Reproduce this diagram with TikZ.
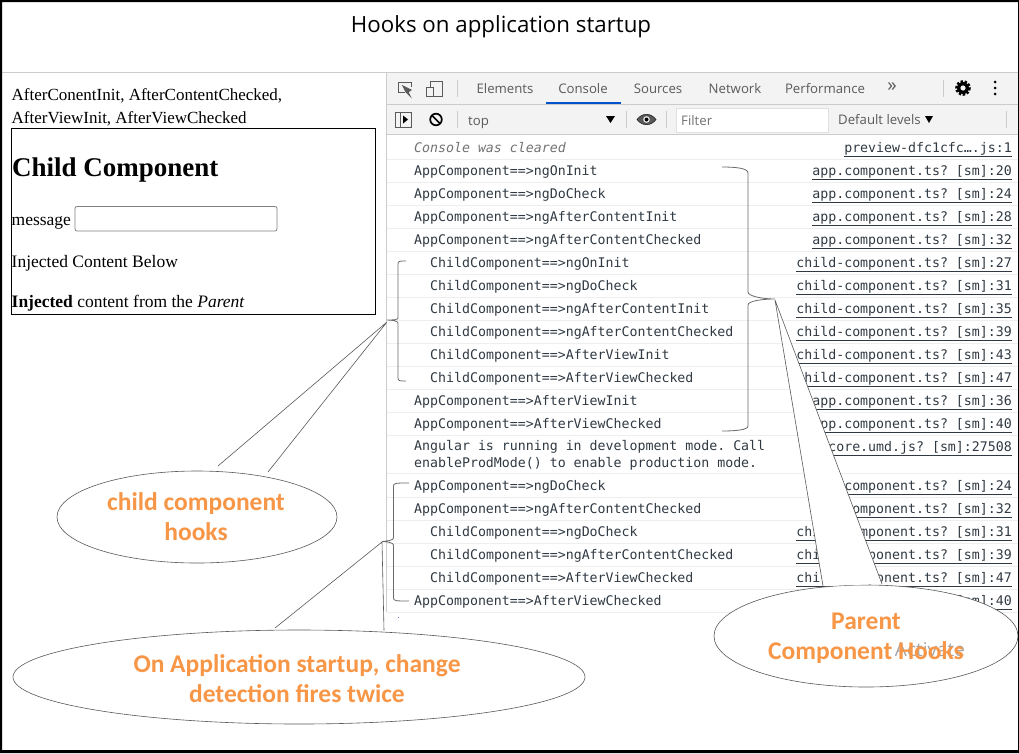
\documentclass[tikz,border=0pt]{standalone}
\usepackage{fontspec}
\setmainfont{Liberation Serif}
\setmonofont{DejaVu Sans Mono}
\setsansfont{Open Sans}
\newfontfamily\calloutfont{Carlito}
\definecolor{consoletext}{HTML}{303942}
\definecolor{rowline}{HTML}{EEEEEE}
\definecolor{barfill}{HTML}{F3F3F3}
\definecolor{barline}{HTML}{CCCCCC}
\definecolor{tabtext}{HTML}{5A5A5A}
\definecolor{hookorange}{HTML}{F79646}
\definecolor{bracegray}{HTML}{6A6A6A}
\tikzset{
  logtext/.style={anchor=base west, inner sep=0pt, font=\ttfamily\fontsize{13.25}{15}\selectfont, text=consoletext},
  loglink/.style={anchor=base east, inner sep=0pt, font=\ttfamily\fontsize{13.25}{15}\selectfont, text=consoletext},
  pagetext/.style={anchor=base west, inner sep=0pt, font=\fontsize{17.5}{20}\selectfont},
  tabtext/.style={inner sep=0pt, font=\sffamily\fontsize{13.2}{15}\selectfont, text=tabtext},
  hooklabel/.style={inner sep=0pt, align=center, text=hookorange, font=\calloutfont\bfseries\fontsize{25.5}{30}\selectfont},
  bubble/.style={draw=black!65, line width=0.6pt},
  hookbrace/.style={draw=bracegray, line width=0.8pt},
  iconline/.style={draw=tabtext, line width=1pt}
}
\begin{document}
\begin{tikzpicture}[x=1pt,y=-1pt]
  \useasboundingbox (0,0) rectangle (1019,753);
  \fill[white] (0,0) rectangle (1019,753);

  % Title band
  \node[inner sep=0pt, font=\sffamily\fontsize{22.3}{26}\selectfont] (titleText) at (501,27) {Hooks on application startup};
  \draw[barline, line width=0.6pt] (2,72) -- (1018,72);

  % Page on the left
  \node[pagetext, font=\fontsize{17}{20}\selectfont] (pageLineA) at (11.5,100) {AfterConentInit, AfterContentChecked,};
  \node[pagetext, font=\fontsize{17}{20}\selectfont] (pageLineB) at (11.5,123) {AfterViewInit, AfterViewChecked};
  \draw[black, line width=1pt] (11,128.5) rectangle (375,314);
  \node[pagetext, font=\bfseries\fontsize{27}{30}\selectfont] (childHead) at (12,176) {Child Component};
  \node[pagetext] (messageText) at (11.5,225) {message};
  \draw[black!50, line width=0.8pt, rounded corners=2pt, fill=white] (75,206.5) rectangle (277,231);
  \node[pagetext] (injectedHead) at (11.5,267) {Injected Content Below};
  \node[pagetext] (injectedLine) at (11.5,307) {\textbf{Injected} content from the \textit{Parent}};

  % Devtools bars
  \fill[barfill] (386,73) rectangle (1018,134);
  \draw[barline, line width=0.6pt] (386,73) -- (386,612);
  \draw[barline, line width=0.6pt] (386,104) -- (1018,104);
  \draw[barline, line width=0.6pt] (386,134) -- (1018,134);
  \draw[barline, line width=0.6pt] (457,80) -- (457,97);
  \draw[barline, line width=0.6pt] (943,80) -- (943,97);
  \foreach \xpos/\tabname in {505/Elements,583/Console,658/Sources,735/Network,825/Performance} {
    \node[tabtext] (tab\tabname) at (\xpos,88.5) {\tabname};
  }
  \fill[blue!60!cyan!80!black] (546,102) rectangle (621,104);
  \node[tabtext, font=\sffamily\fontsize{19}{20}\selectfont] (tabMore) at (892,87) {»};

  % Icons of the tab bar
  \draw[iconline] (405,92) -- (398.5,92) -- (398.5,82) -- (411,82) -- (411,87);
  \draw[iconline, fill=tabtext] (403,86) -- (411,90) -- (408,92) -- (410,96) -- (406,92) -- cycle;
  \draw[iconline] (430,81) rectangle (442,96);
  \draw[iconline, fill=barfill] (426,87) rectangle (433,96);
  \draw[tabtext, line width=2.6pt, dash pattern=on 2.4pt off 1.6pt] (963,88) circle (6.5);
  \fill[tabtext] (963,88) circle (6);
  \fill[barfill] (963,88) circle (2.6);
  \foreach \ypos in {82,88,94} {
    \fill[tabtext] (995,\ypos) circle (1.5);
  }

  % Icons and fields of the filter bar
  \draw[iconline] (395,112) rectangle (411,127);
  \draw[iconline] (400,112) -- (400,127);
  \fill[tabtext] (403,115.5) -- (408,119.5) -- (403,123.5) -- cycle;
  \draw[tabtext, line width=1.7pt] (436,119.5) circle (5.8);
  \draw[tabtext, line width=1.7pt] (432,115.5) -- (440,123.5);
  \draw[barline, line width=0.6pt] (457,111) -- (457,128);
  \node[tabtext, anchor=base west] (topText) at (468,125) {top};
  \fill[tabtext] (606,116) -- (615,116) -- (610.5,123) -- cycle;
  \draw[barline, line width=0.6pt] (626,111) -- (626,128);
  \draw[tabtext, fill=tabtext] (637,119.5) .. controls (642,112.5) and (651,112.5) .. (656,119.5) .. controls (651,126.5) and (642,126.5) .. (637,119.5) -- cycle;
  \fill[barfill] (646.5,119.5) circle (3.3);
  \fill[tabtext] (646.5,119.5) circle (2);
  \draw[barline, line width=0.6pt] (666,111) -- (666,128);
  \draw[barline!60, line width=0.6pt, fill=white] (676,108) rectangle (828,132);
  \node[tabtext, anchor=base west, text=black!55] (filterText) at (681,125) {Filter};
  \node[tabtext, anchor=base west] (levelText) at (838,124.5) {Default levels};
  \fill[tabtext] (925,116) -- (933,116) -- (929,123) -- cycle;
  \draw[barline, line width=0.6pt] (1006,111) -- (1006,128);

  % Console rows, y/indent/text
  \foreach \ypos/\xpos/\msg in {
      170/414/AppComponent==>ngOnInit,
      193/414/AppComponent==>ngDoCheck,
      216/414/AppComponent==>ngAfterContentInit,
      239/414/AppComponent==>ngAfterContentChecked,
      262/430/ChildComponent==>ngOnInit,
      285/430/ChildComponent==>ngDoCheck,
      308/430/ChildComponent==>ngAfterContentInit,
      331/430/ChildComponent==>ngAfterContentChecked,
      354/430/ChildComponent==>AfterViewInit,
      377/430/ChildComponent==>AfterViewChecked,
      400/414/AppComponent==>AfterViewInit,
      423/414/AppComponent==>AfterViewChecked,
      485/414/AppComponent==>ngDoCheck,
      508/414/AppComponent==>ngAfterContentChecked,
      531/430/ChildComponent==>ngDoCheck,
      554/430/ChildComponent==>ngAfterContentChecked,
      577/430/ChildComponent==>AfterViewChecked,
      600/414/AppComponent==>AfterViewChecked} {
    \node[logtext] (msg\ypos) at (\xpos,\ypos+5) {\msg};
  }
  \foreach \ypos/\linkname in {
      170/app.component.ts? [sm]:20, 193/app.component.ts? [sm]:24,
      216/app.component.ts? [sm]:28, 239/app.component.ts? [sm]:32,
      262/child-component.ts? [sm]:27, 285/child-component.ts? [sm]:31,
      308/child-component.ts? [sm]:35, 331/child-component.ts? [sm]:39,
      354/child-component.ts? [sm]:43, 377/child-component.ts? [sm]:47,
      400/app.component.ts? [sm]:36, 423/app.component.ts? [sm]:40,
      485/app.component.ts? [sm]:24, 508/app.component.ts? [sm]:32,
      531/child-component.ts? [sm]:31, 554/child-component.ts? [sm]:39,
      577/child-component.ts? [sm]:47, 600/app.component.ts? [sm]:40} {
    \node[loglink] (link\ypos) at (1012,\ypos+5) {\underline{\linkname}};
  }
  \node[logtext, text=black!55, font=\ttfamily\itshape\fontsize{13.25}{15}\selectfont] (clearedText) at (414,152) {Console was cleared};
  \node[loglink] (linkCleared) at (1012,152) {\underline{preview-dfc1cfc….js:1}};
  \node[logtext] (prodLineA) at (414,450.5) {Angular is running in development mode. Call};
  \node[logtext] (prodLineB) at (414,467) {enableProdMode() to enable production mode.};
  \node[loglink] (linkProd) at (1012,451.5) {\underline{core.umd.js? [sm]:27508}};
  \fill[blue!60] (397.8,616.5) rectangle (398.8,617.5);

  % Row separators
  \foreach \ypos in {159,182,205,228,251,274,297,320,343,366,389,412,435,473,497,520,543,566,589,612} {
    \draw[rowline, line width=0.8pt] (387,\ypos) -- (1018,\ypos);
  }

  % Braces
  \draw[hookbrace] (722,167) .. controls (735,167) and (748,168) .. (748,173) -- (748,292)
    .. controls (748,296) and (762,299) .. (775,299) .. controls (762,299) and (748,301) .. (748,305) -- (748,426)
    .. controls (748,430) and (735,431) .. (722,431);
  \draw[hookbrace] (406,261) .. controls (400,261) and (398,261) .. (398,264) -- (398,318)
    .. controls (398,320) and (392,320) .. (387,320) .. controls (392,320) and (398,321) .. (398,323) -- (398,378)
    .. controls (398,381) and (400,381) .. (406,381);
  \draw[hookbrace] (409,483) .. controls (396,483) and (393.5,483) .. (393.5,486) -- (393.5,538)
    .. controls (393.5,540) and (388,541) .. (382,541.5) .. controls (388,541.5) and (393.5,543) .. (393.5,545) -- (393.5,598)
    .. controls (393.5,601) and (396,601) .. (409,601);

  % Callouts
  \draw[bubble, fill=white] (197,517) ellipse [x radius=140, y radius=46];
  \coordinate (childA) at (218,466);
  \coordinate (childB) at (268,472);
  \coordinate (childTip) at (387,322);
  \fill[white] (childA) -- (childTip) -- (childB) -- cycle;
  \draw[bubble] (childA) -- (childTip) -- (childB);
  \node[hooklabel] (childLabel) at (196,517) {child component\\hooks};

  \draw[bubble, fill=white] (299,677) ellipse [x radius=286, y radius=47];
  \coordinate (startA) at (275,628);
  \coordinate (startB) at (384,630.5);
  \coordinate (startTip) at (382,542);
  \fill[white] (startA) -- (startTip) -- (startB) -- cycle;
  \draw[bubble] (startA) -- (startTip) -- (startB);
  \node[hooklabel] (startLabel) at (297,679) {On Application startup, change\\detection fires twice};

  \draw[bubble, fill=white] (866,636) ellipse [x radius=152, y radius=51];
  \coordinate (parentA) at (823,586);
  \coordinate (parentB) at (882,584);
  \coordinate (parentTip) at (775,300);
  \fill[white] (parentA) -- (parentTip) -- (parentB) -- cycle;
  \draw[bubble] (parentA) -- (parentTip) -- (parentB);
  \node[inner sep=0pt, font=\sffamily\fontsize{19}{22}\selectfont, text=black!35] (ghostText) at (930,650) {Activate};
  \node[hooklabel] (parentLabel) at (866,638) {Parent\\Component Hooks};

  % Frame
  \fill[black] (0,0) rectangle (1019,2) (0,0) rectangle (2,753) (1018,0) rectangle (1019,753) (0,750) rectangle (1019,753);
\end{tikzpicture}
\end{document}
